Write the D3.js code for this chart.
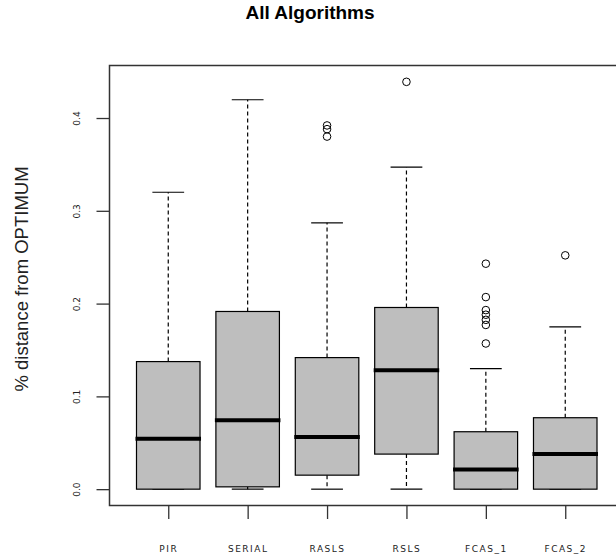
<!DOCTYPE html>
<html>
<head>
<meta charset="utf-8">
<script src="https://cdn.jsdelivr.net/npm/d3@7"></script>
<style>
  body { margin: 0; background: #fff; }
  svg { display: block; }
</style>
</head>
<body>
<div id="chart"></div>
<script>
// boxplot stats
const categories = ['PIR', 'SERIAL', 'RASLS', 'RSLS', 'FCAS_1', 'FCAS_2'];
const whiskerLow = [0.0, 0.0, 0.0, 0.0, 0.0, 0.0];
const q1 = [0.0, 0.0025, 0.0151, 0.0378, 0.0, 0.0];
const medians = [0.0543, 0.0742, 0.0562, 0.1282, 0.0213, 0.0378];
const q3 = [0.1375, 0.1915, 0.1418, 0.1958, 0.0619, 0.077];
const whiskerHigh = [0.32, 0.4197, 0.287, 0.347, 0.13, 0.175];
const outliers = [
  [],
  [],
  [0.392, 0.388, 0.380],
  [0.439],
  [0.243, 0.207, 0.193, 0.188, 0.1825, 0.177, 0.157],
  [0.252]
];
const yTicks = [0.0, 0.1, 0.2, 0.3, 0.4];

const width = 616;
const height = 557;

const svg = d3.select('#chart')
  .append('svg')
  .attr('width', width)
  .attr('height', height)
  .attr('viewBox', [0, 0, width, height]);

// R-style extended ranges
const x = d3.scaleLinear().domain([0.26, 6.74]).range([109.5, 624]);
const y = d3.scaleLinear().domain([-0.0176, 0.4566]).range([505.5, 65.5]);

const step = x(2) - x(1);
const boxW = step * 0.8;
const capW = boxW / 2;

const boxes = categories.map((name, i) => ({
  name,
  pos: i + 1,
  lo: whiskerLow[i],
  q1: q1[i],
  med: medians[i],
  q3: q3[i],
  hi: whiskerHigh[i],
  out: outliers[i]
}));

// title
svg.append('text')
  .attr('x', 310)
  .attr('y', 19)
  .attr('text-anchor', 'middle')
  .style('font-family', 'Liberation Sans, Arial, sans-serif')
  .style('font-weight', 'bold')
  .style('font-size', '19px')
  .text('All Algorithms');

// y axis title
svg.append('text')
  .attr('transform', 'translate(28,279) rotate(-90)')
  .attr('text-anchor', 'middle')
  .style('font-family', 'Liberation Sans, Arial, sans-serif')
  .style('font-size', '18.5px')
  .style('fill', '#222')
  .text('% distance from OPTIMUM');

const g = svg.append('g');

// whiskers
const w = g.selectAll('g.box')
  .data(boxes)
  .enter()
  .append('g')
  .attr('class', 'box');

w.append('line')
  .attr('x1', (d) => x(d.pos))
  .attr('x2', (d) => x(d.pos))
  .attr('y1', (d) => y(d.q3))
  .attr('y2', (d) => y(d.hi))
  .attr('stroke', '#000')
  .attr('stroke-width', 1.2)
  .attr('stroke-dasharray', '4,3');

w.append('line')
  .attr('x1', (d) => x(d.pos))
  .attr('x2', (d) => x(d.pos))
  .attr('y1', (d) => y(d.q1))
  .attr('y2', (d) => y(d.lo))
  .attr('stroke', '#000')
  .attr('stroke-width', 1.2)
  .attr('stroke-dasharray', '4,3');

// staples
['hi', 'lo'].forEach((k) => {
  w.append('line')
    .attr('x1', (d) => x(d.pos) - capW / 2)
    .attr('x2', (d) => x(d.pos) + capW / 2)
    .attr('y1', (d) => y(d[k]))
    .attr('y2', (d) => y(d[k]))
    .attr('stroke', '#000')
    .attr('stroke-width', 1.2);
});

// boxes
w.append('rect')
  .attr('x', (d) => x(d.pos) - boxW / 2)
  .attr('width', boxW)
  .attr('y', (d) => y(d.q3))
  .attr('height', (d) => y(d.q1) - y(d.q3))
  .attr('fill', '#bebebe')
  .attr('stroke', '#000')
  .attr('stroke-width', 1.2);

// medians
w.append('line')
  .attr('x1', (d) => x(d.pos) - boxW / 2 - 1)
  .attr('x2', (d) => x(d.pos) + boxW / 2 + 1)
  .attr('y1', (d) => y(d.med))
  .attr('y2', (d) => y(d.med))
  .attr('stroke', '#000')
  .attr('stroke-width', 4);

// outliers
w.each(function (d) {
  d3.select(this)
    .selectAll('circle')
    .data(d.out)
    .enter()
    .append('circle')
    .attr('cx', x(d.pos))
    .attr('cy', (v) => y(v))
    .attr('r', 3.8)
    .attr('fill', 'none')
    .attr('stroke', '#000')
    .attr('stroke-width', 1);
});

// frame
svg.append('rect')
  .attr('x', x.range()[0])
  .attr('y', y.range()[1])
  .attr('width', x.range()[1] - x.range()[0])
  .attr('height', y.range()[0] - y.range()[1])
  .attr('fill', 'none')
  .attr('stroke', '#333')
  .attr('stroke-width', 1.5);

// y axis
const yAxis = svg.append('g')
  .attr('transform', `translate(${x.range()[0]},0)`)
  .call(d3.axisLeft(y).tickValues(yTicks).tickSize(13).tickFormat(d3.format('.1f')));
yAxis.select('.domain').remove();
yAxis.selectAll('.tick line').attr('stroke', '#333').attr('stroke-width', 1.3);
yAxis.selectAll('.tick text')
  .attr('x', 0)
  .attr('dy', 0)
  .attr('transform', 'translate(-30,0) rotate(-90)')
  .attr('text-anchor', 'middle')
  .style('font-family', 'DejaVu Sans, sans-serif')
  .style('font-size', '9px')
  .style('fill', '#222');

// x axis
const xAxis = svg.append('g')
  .attr('transform', `translate(0,${y.range()[0]})`)
  .call(d3.axisBottom(x).tickValues(d3.range(1, categories.length + 1)).tickSize(13.5)
    .tickFormat((d) => categories[d - 1]));
xAxis.select('.domain').remove();
xAxis.selectAll('.tick line').attr('stroke', '#333').attr('stroke-width', 1.3);
xAxis.selectAll('.tick text')
  .attr('y', 46)
  .attr('dy', 0)
  .style('font-family', 'DejaVu Sans, sans-serif')
  .style('font-size', '9px')
  .style('letter-spacing', '1.5px')
  .style('fill', '#222');
</script>
</body>
</html>
